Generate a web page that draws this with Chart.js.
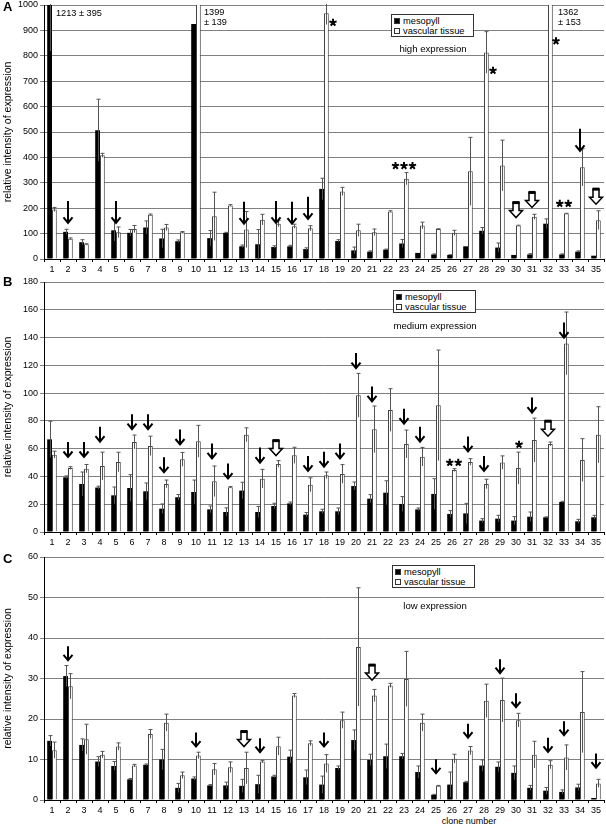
<!DOCTYPE html>
<html>
<head>
<meta charset="utf-8">
<script src="https://cdn.jsdelivr.net/npm/chart.js@4.4.0/dist/chart.umd.min.js"></script>
<style>
  body { margin: 0; background: #fff; width: 606px; height: 830px; position: relative; overflow: hidden;
         font-family: "Liberation Sans", Arial, sans-serif; color: #000; }
  canvas { position: absolute; left: 0; }
  .letter { position: absolute; left: 3px; font: bold 13px "Liberation Sans", Arial, sans-serif; }
  .legend { position: absolute; width: 83px; height: 23px; box-sizing: border-box; border: 1px solid #333;
            background: #fff; font-size: 9.3px; line-height: 10px; padding: 1px 0 0 2px; }
  .legend div { height: 10px; white-space: nowrap; }
  .legend span { display: inline-block; width: 6px; height: 6px; margin-right: 3px; box-sizing: border-box;
                 border: 1px solid #333; vertical-align: 0px; }
  .note { position: absolute; font-size: 9.6px; transform: translateX(-50%); white-space: nowrap; }
</style>
</head>
<body>
<canvas id="chartA" width="606" height="275" style="top:0"></canvas>
<canvas id="chartB" width="606" height="273" style="top:277px"></canvas>
<canvas id="chartC" width="606" height="265" style="top:551px"></canvas>

<div class="letter" style="top:-1px">A</div>
<div class="letter" style="top:274px">B</div>
<div class="letter" style="top:551px">C</div>

<div class="legend" style="left:391px;top:14px">
  <div><span style="background:#000"></span>mesopyll</div>
  <div><span style="background:#fff"></span>vascular tissue</div>
</div>
<div class="legend" style="left:393px;top:290px">
  <div><span style="background:#000"></span>mesopyll</div>
  <div><span style="background:#fff"></span>vascular tissue</div>
</div>
<div class="legend" style="left:392px;top:565px">
  <div><span style="background:#000"></span>mesopyll</div>
  <div><span style="background:#fff"></span>vascular tissue</div>
</div>

<div class="note" style="left:433px;top:43px">high expression</div>
<div class="note" style="left:435px;top:320px">medium expression</div>
<div class="note" style="left:435px;top:600px">low expression</div>
<div class="note" style="left:469px;top:816px;font-size:9px">clone number</div>

<script>
// clone numbers 1..35
const clones = Array.from({ length: 35 }, (_, i) => String(i + 1));

// A - high expression
const mesoA = [1213, 107, 66, 507, 113, 103, 124, 81, 70, 925, 82, 103, 50, 58, 47, 50, 39, 276, 71, 34, 29, 37, 61, 24, 18, 16, 50, 111, 45, 16, 18, 139, 18, 29, 13];
const mesoErrA = [395, 10, 10, 122, 42, 13, 26, 36, 5, 0, 30, 2, 5, 58, 5, 4, 5, 42, 5, 13, 3, 2, 16, 0, 2, 1, 0, 13, 18, 0, 3, 19, 2, 3, 0];
const vascA = [195, 80, 58, 408, 105, 118, 174, 124, 105, 1399, 168, 211, 116, 155, 139, 129, 121, 968, 266, 113, 105, 187, 316, 132, 118, 103, 345, 813, 368, 132, 166, 1362, 179, 361, 153];
const vascErrA = [8, 3, 2, 8, 21, 14, 3, 12, 3, 139, 95, 3, 71, 21, 12, 8, 10, 45, 16, 24, 13, 3, 24, 13, 1, 10, 134, 82, 100, 1, 10, 153, 1, 73, 37];

// B - medium expression
const mesoB = [66.7, 39.4, 34.6, 32, 26.4, 31.7, 29.3, 16.8, 25, 28.8, 16.3, 14.4, 29.8, 14.4, 18.7, 20.6, 12.5, 14.9, 14.9, 33.1, 24, 28.3, 20.2, 16.3, 27.4, 13, 13.4, 8.2, 9.6, 8.2, 11, 10.6, 21.6, 7.7, 10.6];
const mesoErrB = [13, 1, 8.6, 1, 6, 9.6, 6, 3.4, 2, 8.6, 2.4, 3, 6, 4, 2, 1, 1.5, 1.5, 2.4, 2.9, 2.9, 8.6, 5.3, 1, 11, 2.4, 7.2, 1.4, 2.4, 2.9, 3.4, 0.3, 0.5, 1.4, 1.4];
const vascB = [55.7, 46, 45.6, 47.5, 50.4, 64.8, 62, 34.6, 52.3, 65.3, 36.5, 32.2, 70, 38.4, 49, 55.2, 34, 40.8, 41.8, 98.4, 73.9, 87.8, 63.4, 54.2, 91.2, 44.6, 50.4, 34.6, 50, 46, 66.2, 63.4, 135.8, 51.8, 70];
const vascErrB = [2.5, 1, 3, 10, 7, 5, 7, 2.8, 5, 11.5, 11, 0.5, 5, 6.7, 2.4, 5.8, 5, 2.4, 6.7, 15.8, 16.8, 15.4, 10, 6.7, 39.8, 1, 2.4, 3.4, 4.8, 11.5, 15.8, 1.4, 22.6, 15.4, 20.2];

// C - low expression
const mesoC = [14.6, 30.6, 13.6, 9.5, 8.4, 5.1, 8.7, 10, 3, 5.3, 3.6, 3.6, 3.5, 3.9, 5.8, 10.7, 5.6, 3.8, 7.9, 14.8, 9.9, 10.8, 10.8, 6.9, 1.3, 3.8, 4.4, 8.5, 8.2, 6.7, 3, 2.3, 2, 3.1, 0.5];
const mesoErrC = [1.3, 2.6, 1.5, 1.2, 1.1, 0.2, 0.2, 2.5, 1.1, 0.4, 0.2, 0.8, 1.6, 2.2, 0.3, 1.6, 1.8, 2.1, 0.5, 2.5, 1.4, 3, 0.7, 1.5, 0.1, 3.1, 0.2, 1.4, 1.2, 1.7, 0.6, 0.8, 0.5, 0.8, 0];
const vascC = [12.3, 28.1, 15, 11.2, 13.2, 8.5, 16.3, 19.1, 6.1, 11, 7.6, 8.1, 7.9, 9.5, 13.3, 25.8, 14, 9, 19.7, 37.8, 25.8, 28.3, 29.9, 19.1, 3.5, 10.2, 12.2, 24.5, 24.7, 19.7, 11.2, 8.7, 10.5, 21.7, 4.1];
const vascErrC = [2, 3.1, 3.7, 0.8, 0.9, 0.3, 1.1, 2.1, 0.8, 0.8, 1.4, 1.3, 3.9, 0.3, 2.2, 0.5, 0.6, 2.2, 2, 14.6, 1.5, 0.5, 6.8, 2.1, 0.1, 1.1, 1, 4.1, 5.4, 1.7, 3.3, 1, 3.1, 10, 1];

// markers: [clone, value at arrow tip] / stars: [clone, value, count, dx]
const arrowsA = [[2, 142], [5, 142], [13, 139], [15, 142], [16, 139], [17, 158], [34, 426]];
const hollowA = [[30, 163], [31, 203], [35, 216]];
const starsA = [[18, 931, 1, 9], [23, 367, 3, 0], [28, 742, 1, 9], [32, 858, 1, 8], [33, 218, 2, 0]];
const arrowsB = [[2, 54], [3, 54], [4, 65], [6, 74], [7, 74], [8, 43], [9, 63], [11, 53], [12, 38.5], [14, 50], [17, 44], [18, 47], [19, 53], [20, 118], [21, 94], [23, 78], [24, 65], [27, 58], [28, 44], [31, 86], [33, 140]];
const hollowB = [[15, 55], [32, 69]];
const starsB = [[26, 50, 2, 2], [30, 63, 1, 3]];
const arrowsC = [[2, 34.5], [10, 13.2], [14, 11.8], [18, 13.2], [25, 6.6], [27, 15.4], [29, 31.3], [30, 22.9], [32, 11.9], [33, 16], [35, 8]];
const hollowC = [[13, 13.2], [21, 29.6]];
const starsC = [];

// off-scale values written as text
const notesA = [[1, 968, 4, ["1213 ± 395"]], [10, 970, 8, ["1399", "± 139"]], [32, 970, 10, ["1362", "± 153"]]];

const tickFont = { family: "'Liberation Sans', Arial", size: 9 };

// error bars, arrows, asterisks
const overlay = {
  id: "overlay",
  afterDatasetsDraw(chart, args, opts) {
    const { ctx, chartArea: area, scales: { x, y } } = chart;
    ctx.save();
    ctx.beginPath();
    ctx.rect(area.left, area.top - 1, area.right - area.left, area.bottom - area.top + 1);
    ctx.clip();
    ctx.strokeStyle = "#555";
    ctx.lineWidth = 1;
    chart.data.datasets.forEach((ds, di) => {
      const meta = chart.getDatasetMeta(di);
      ds.errors.forEach((e, i) => {
        if (!e) return;
        const px = Math.round(meta.data[i].x) + 0.5;
        const top = y.getPixelForValue(ds.data[i] + e);
        const bot = y.getPixelForValue(Math.max(ds.data[i] - e, 0));
        ctx.beginPath();
        ctx.moveTo(px, bot);
        ctx.lineTo(px, top);
        ctx.moveTo(px - 2, top);
        ctx.lineTo(px + 2, top);
        ctx.stroke();
      });
    });
    ctx.restore();

    ctx.save();
    ctx.strokeStyle = "#000";
    ctx.fillStyle = "#000";
    opts.arrows.forEach(([c, v]) => {
      const px = x.getPixelForValue(c - 1), tip = y.getPixelForValue(v);
      ctx.lineWidth = 2;
      ctx.beginPath();
      ctx.moveTo(px, tip - opts.len);
      ctx.lineTo(px, tip - 1);
      ctx.moveTo(px - 4.5, tip - 5.5);
      ctx.lineTo(px, tip);
      ctx.lineTo(px + 4.5, tip - 5.5);
      ctx.stroke();
    });
    opts.hollow.forEach(([c, v]) => {
      const px = x.getPixelForValue(c - 1), tip = y.getPixelForValue(v);
      ctx.lineWidth = 1.5;
      ctx.fillStyle = "#fff";
      ctx.beginPath();
      ctx.moveTo(px - 3, tip - 15);
      ctx.lineTo(px + 3, tip - 15);
      ctx.lineTo(px + 3, tip - 7);
      ctx.lineTo(px + 6.5, tip - 7);
      ctx.lineTo(px, tip);
      ctx.lineTo(px - 6.5, tip - 7);
      ctx.lineTo(px - 3, tip - 7);
      ctx.closePath();
      ctx.fill();
      ctx.stroke();
      ctx.lineWidth = 3;
      ctx.beginPath();
      ctx.moveTo(px - 3.5, tip - 15);
      ctx.lineTo(px + 3.5, tip - 15);
      ctx.stroke();
    });
    ctx.lineWidth = 2;
    opts.stars.forEach(([c, v, n, dx]) => {
      const cy = y.getPixelForValue(v);
      for (let k = 0; k < n; k++) {
        const cx = x.getPixelForValue(c - 1) + dx + (k - (n - 1) / 2) * 8.5;
        ctx.beginPath();
        for (let a = 0; a < 5; a++) {
          const ang = -Math.PI / 2 + a * 2 * Math.PI / 5;
          ctx.moveTo(cx, cy);
          ctx.lineTo(cx + 3.8 * Math.cos(ang), cy + 3.8 * Math.sin(ang));
        }
        ctx.stroke();
      }
    });
    ctx.font = "9.2px 'Liberation Sans', Arial";
    ctx.textAlign = "left";
    ctx.textBaseline = "middle";
    ctx.fillStyle = "#000";
    opts.notes.forEach(([c, v, dx, lines]) => {
      lines.forEach((t, k) => {
        ctx.fillText(t, x.getPixelForValue(c - 1) + dx, y.getPixelForValue(v) + k * 10);
      });
    });
    ctx.restore();
  },
};

function makePanel(id, p) {
  const ctx = document.getElementById(id);
  return new Chart(ctx, {
    type: "bar",
    data: {
      labels: clones,
      datasets: [
        { label: "mesopyll", data: p.meso, errors: p.mesoErr, backgroundColor: "#000", borderWidth: 0 },
        { label: "vascular tissue", data: p.vasc, errors: p.vascErr, backgroundColor: "#fff",
          borderColor: "#444", borderWidth: 1 },
      ],
    },
    options: {
      responsive: false,
      devicePixelRatio: 1,
      animation: false,
      categoryPercentage: 0.6,
      barPercentage: 1,
      layout: { padding: { top: p.top, right: 2, left: 0, bottom: 0 } },
      plugins: {
        legend: { display: false },
        tooltip: { enabled: false },
        overlay: { arrows: p.arrows, hollow: p.hollow, stars: p.stars, notes: p.notes || [], len: p.len },
      },
      scales: {
        x: {
          grid: { offset: true, drawOnChartArea: false, tickLength: 3, color: "#000" },
          border: { color: "#000" },
          ticks: { font: tickFont, color: "#000", maxRotation: 0, autoSkip: false, padding: 2 },
          afterFit: (s) => { s.height = p.xh; s.paddingLeft = 0; s.paddingRight = 0; },
        },
        y: {
          min: 0,
          max: p.max,
          ticks: { stepSize: p.step, font: tickFont, color: "#000", padding: 2, callback: (v) => String(v) },
          grid: { color: "#808080", tickLength: 4 },
          border: { color: "#000" },
          title: { display: true, text: "relative intensity of expression", color: "#000",
                   padding: { top: 2, bottom: 0 }, font: { family: "'Liberation Sans', Arial", size: 10.5 } },
          afterFit: (s) => { s.width = 44; s.paddingTop = 0; s.paddingBottom = 0; },
        },
      },
    },
    plugins: [overlay],
  });
}

document.addEventListener("DOMContentLoaded", () => {
  makePanel("chartA", { meso: mesoA, mesoErr: mesoErrA, vasc: vascA, vascErr: vascErrA, max: 1000, step: 100,
    top: 5, xh: 16, len: 22, arrows: arrowsA, hollow: hollowA, stars: starsA, notes: notesA });
  makePanel("chartB", { meso: mesoB, mesoErr: mesoErrB, vasc: vascB, vascErr: vascErrB, max: 180, step: 20,
    top: 5, xh: 18, len: 15, arrows: arrowsB, hollow: hollowB, stars: starsB });
  makePanel("chartC", { meso: mesoC, mesoErr: mesoErrC, vasc: vascC, vascErr: vascErrC, max: 60, step: 10,
    top: 6, xh: 16, len: 14, arrows: arrowsC, hollow: hollowC, stars: starsC });
});
</script>
</body>
</html>
